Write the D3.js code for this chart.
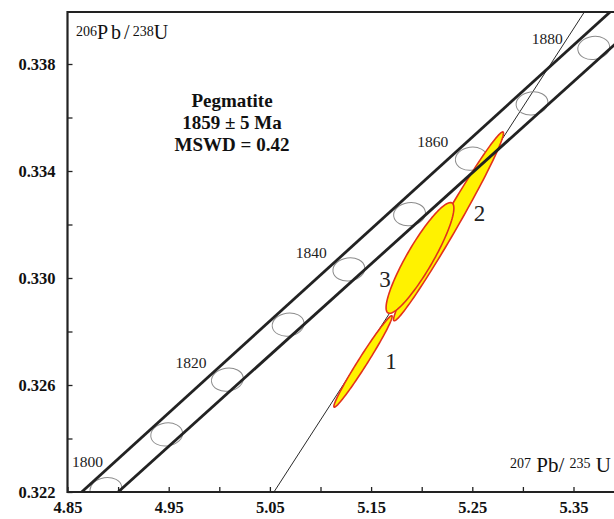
<!DOCTYPE html>
<html>
<head>
<meta charset="utf-8">
<script src="https://cdn.jsdelivr.net/npm/d3@7"></script>
<style>
  html, body { margin: 0; padding: 0; background: #fff; }
  svg { display: block; font-family: "Liberation Serif", "Times New Roman", serif; }
</style>
</head>
<body>
<div id="chart"></div>
<script>
// concordia age marks (Ma) and their ratios
var concAges = [1800, 1810, 1820, 1830, 1840, 1850, 1860, 1870, 1880];
var concX = [4.888, 4.948, 5.008, 5.068, 5.128, 5.188, 5.249, 5.309, 5.370];
var concY = [0.32211, 0.32415, 0.32620, 0.32826, 0.33032, 0.33239, 0.33446, 0.33653, 0.33860];
var labeledAges = [1800, 1820, 1840, 1860, 1880];

// concordia error band (two edges) and discordia line
var bandUpperX = [4.864, 5.400];
var bandUpperY = [0.32200, 0.34042];
var bandLowerX = [4.900, 5.400];
var bandLowerY = [0.32200, 0.33905];
var discordiaX = [5.054, 5.361];
var discordiaY = [0.32200, 0.33996];

// analyses: 207Pb/235U, 206Pb/238U, errors, error correlation
var spotIds = ["1", "2", "3"];
var spotX = [5.1420, 5.2265, 5.1983];
var spotY = [0.32688, 0.33193, 0.33075];
var spotSX = [0.0288, 0.0543, 0.0335];
var spotSY = [0.00171, 0.00353, 0.00207];
var spotRho = [0.983, 0.986, 0.898];

// axes
var xTicks = [4.85, 4.90, 4.95, 5.00, 5.05, 5.10, 5.15, 5.20, 5.25, 5.30, 5.35];
var xLabels = [4.85, 4.95, 5.05, 5.15, 5.25, 5.35];
var yTicks = [0.322, 0.324, 0.326, 0.328, 0.330, 0.332, 0.334, 0.336, 0.338];
var yLabels = [0.322, 0.326, 0.330, 0.334, 0.338];

var titleLines = ["Pegmatite", "1859 \u00b1 5 Ma", "MSWD = 0.42"];

(function () {
  'use strict';

  // layout
  var W = 614, H = 519;
  var plotLeft = 67.5, plotTop = 12, plotBottom = 492;
  var ageLabelOffsets = [[-3, -22], [-21, -12], [-22, -11], [-23, -12], [-31, -4]];
  var spotLabelOffsets = [[28, 8], [31, -5], [-35, 29]];

  var svg = d3.select("#chart").append("svg")
      .attr("width", W)
      .attr("height", H);

  var x = d3.scaleLinear().domain([4.85, 5.35]).range([plotLeft, 573.5]);
  var y = d3.scaleLinear().domain([0.322, 0.338]).range([plotBottom, 64]);

  svg.append("defs").append("clipPath").attr("id", "plot")
    .append("rect")
      .attr("x", plotLeft).attr("y", plotTop)
      .attr("width", W - plotLeft).attr("height", plotBottom - plotTop);

  var g = svg.append("g").attr("clip-path", "url(#plot)");

  // discordia
  g.append("line")
      .attr("x1", x(discordiaX[0])).attr("y1", y(discordiaY[0]))
      .attr("x2", x(discordiaX[1])).attr("y2", y(discordiaY[1]))
      .attr("stroke", "#111")
      .attr("stroke-width", 0.9);

  // concordia age ellipses
  g.selectAll("ellipse.age")
    .data(concAges)
    .enter()
      .append("ellipse")
      .attr("class", "age")
      .attr("cx", function(d, i){ return x(concX[i]); })
      .attr("cy", function(d, i){ return y(concY[i]); })
      .attr("rx", 16)
      .attr("ry", 11.5)
      .attr("transform", function(d, i){ return "rotate(-8," + x(concX[i]) + "," + y(concY[i]) + ")"; })
      .attr("fill", "none")
      .attr("stroke", "#8c8c8c")
      .attr("stroke-width", 1);

  // error ellipses of the analyses
  var steps = d3.range(0, 121).map(function(k){ return k / 120 * 2 * Math.PI; });
  var ellipseLine = d3.line();
  g.selectAll("path.spot")
    .data(spotIds)
    .enter()
      .append("path")
      .attr("class", "spot")
      .attr("d", function(d, i){
        var r = spotRho[i], q = Math.sqrt(1 - r * r);
        return ellipseLine(steps.map(function(t){
          return [x(spotX[i] + spotSX[i] * Math.cos(t)),
                  y(spotY[i] + spotSY[i] * (r * Math.cos(t) + q * Math.sin(t)))];
        })) + "Z";
      })
      .attr("fill", "#fff200")
      .attr("stroke", "#e2311d")
      .attr("stroke-width", 1.6);

  // band edges
  [[bandUpperX, bandUpperY], [bandLowerX, bandLowerY]].forEach(function(b){
    g.append("line")
        .attr("x1", x(b[0][0])).attr("y1", y(b[1][0]))
        .attr("x2", x(b[0][1])).attr("y2", y(b[1][1]))
        .attr("stroke", "#222")
        .attr("stroke-width", 2.8);
  });

  // age labels
  svg.selectAll("text.age")
    .data(labeledAges)
    .enter()
      .append("text")
      .attr("class", "age")
      .attr("x", function(d, i){ return x(concX[concAges.indexOf(d)]) + ageLabelOffsets[i][0]; })
      .attr("y", function(d, i){ return y(concY[concAges.indexOf(d)]) + ageLabelOffsets[i][1]; })
      .attr("text-anchor", "end")
      .attr("font-size", 15.5)
      .attr("fill", "#222")
      .text(function(d){ return d; });

  // spot numbers
  svg.selectAll("text.spot")
    .data(spotIds)
    .enter()
      .append("text")
      .attr("class", "spot")
      .attr("x", function(d, i){ return x(spotX[i]) + spotLabelOffsets[i][0]; })
      .attr("y", function(d, i){ return y(spotY[i]) + spotLabelOffsets[i][1]; })
      .attr("text-anchor", "middle")
      .attr("font-size", 23)
      .attr("fill", "#222")
      .text(function(d){ return d; });

  // axes, ticks inward
  var isIn = function(list, d){ return list.some(function(v){ return Math.abs(v - d) < 1e-9; }); };
  var xAxis = d3.axisBottom(x)
      .tickValues(xTicks)
      .tickSize(-5)
      .tickSizeOuter(0)
      .tickPadding(9)
      .tickFormat(function(d){ return isIn(xLabels, d) ? d3.format(".2f")(d) : ""; });
  var yAxis = d3.axisLeft(y)
      .tickValues(yTicks)
      .tickSize(-5)
      .tickSizeOuter(0)
      .tickPadding(12)
      .tickFormat(function(d){ return isIn(yLabels, d) ? d3.format(".3f")(d) : ""; });

  var gx = svg.append("g").attr("transform", "translate(0," + plotBottom + ")").call(xAxis);
  var gy = svg.append("g").attr("transform", "translate(" + plotLeft + ",0)").call(yAxis);
  [gx, gy].forEach(function(a){
    a.select(".domain").remove();
    a.selectAll(".tick line").attr("stroke", "#222").attr("stroke-width", 1.3);
    a.selectAll(".tick text")
      .attr("font-family", "Liberation Serif, serif")
      .attr("font-weight", "bold")
      .attr("font-size", 16.5)
      .attr("fill", "#111");
  });

  // frame
  svg.append("path")
      .attr("d", "M" + W + "," + plotTop + "H" + plotLeft + "V" + plotBottom + "H" + W)
      .attr("fill", "none")
      .attr("stroke", "#222")
      .attr("stroke-width", 2.2);

  // axis titles
  var ty = svg.append("text").attr("x", 76).attr("y", 39).attr("fill", "#111");
  ty.append("tspan").attr("font-size", 14).attr("dy", -3).text("206");
  ty.append("tspan").attr("font-size", 20).attr("dy", 3).attr("letter-spacing", 3).text("Pb/");
  ty.append("tspan").attr("font-size", 14).attr("dy", -3).text("238");
  ty.append("tspan").attr("font-size", 20).attr("dy", 3).text("U");

  var tx = svg.append("text").attr("x", 611).attr("y", 472).attr("text-anchor", "end").attr("fill", "#111");
  tx.append("tspan").attr("font-size", 14).attr("dy", -4).text("207");
  tx.append("tspan").attr("font-size", 21).attr("dy", 4).text(" Pb/ ");
  tx.append("tspan").attr("font-size", 14).attr("dy", -4).text("235");
  tx.append("tspan").attr("font-size", 21).attr("dy", 4).text(" U");

  // result block
  svg.selectAll("text.title")
    .data(titleLines)
    .enter()
      .append("text")
      .attr("class", "title")
      .attr("x", 232)
      .attr("y", function(d, i){ return 107 + i * 22; })
      .attr("text-anchor", "middle")
      .attr("font-weight", "bold")
      .attr("font-size", 19)
      .attr("fill", "#111")
      .text(function(d){ return d; });
}());
</script>
</body>
</html>
